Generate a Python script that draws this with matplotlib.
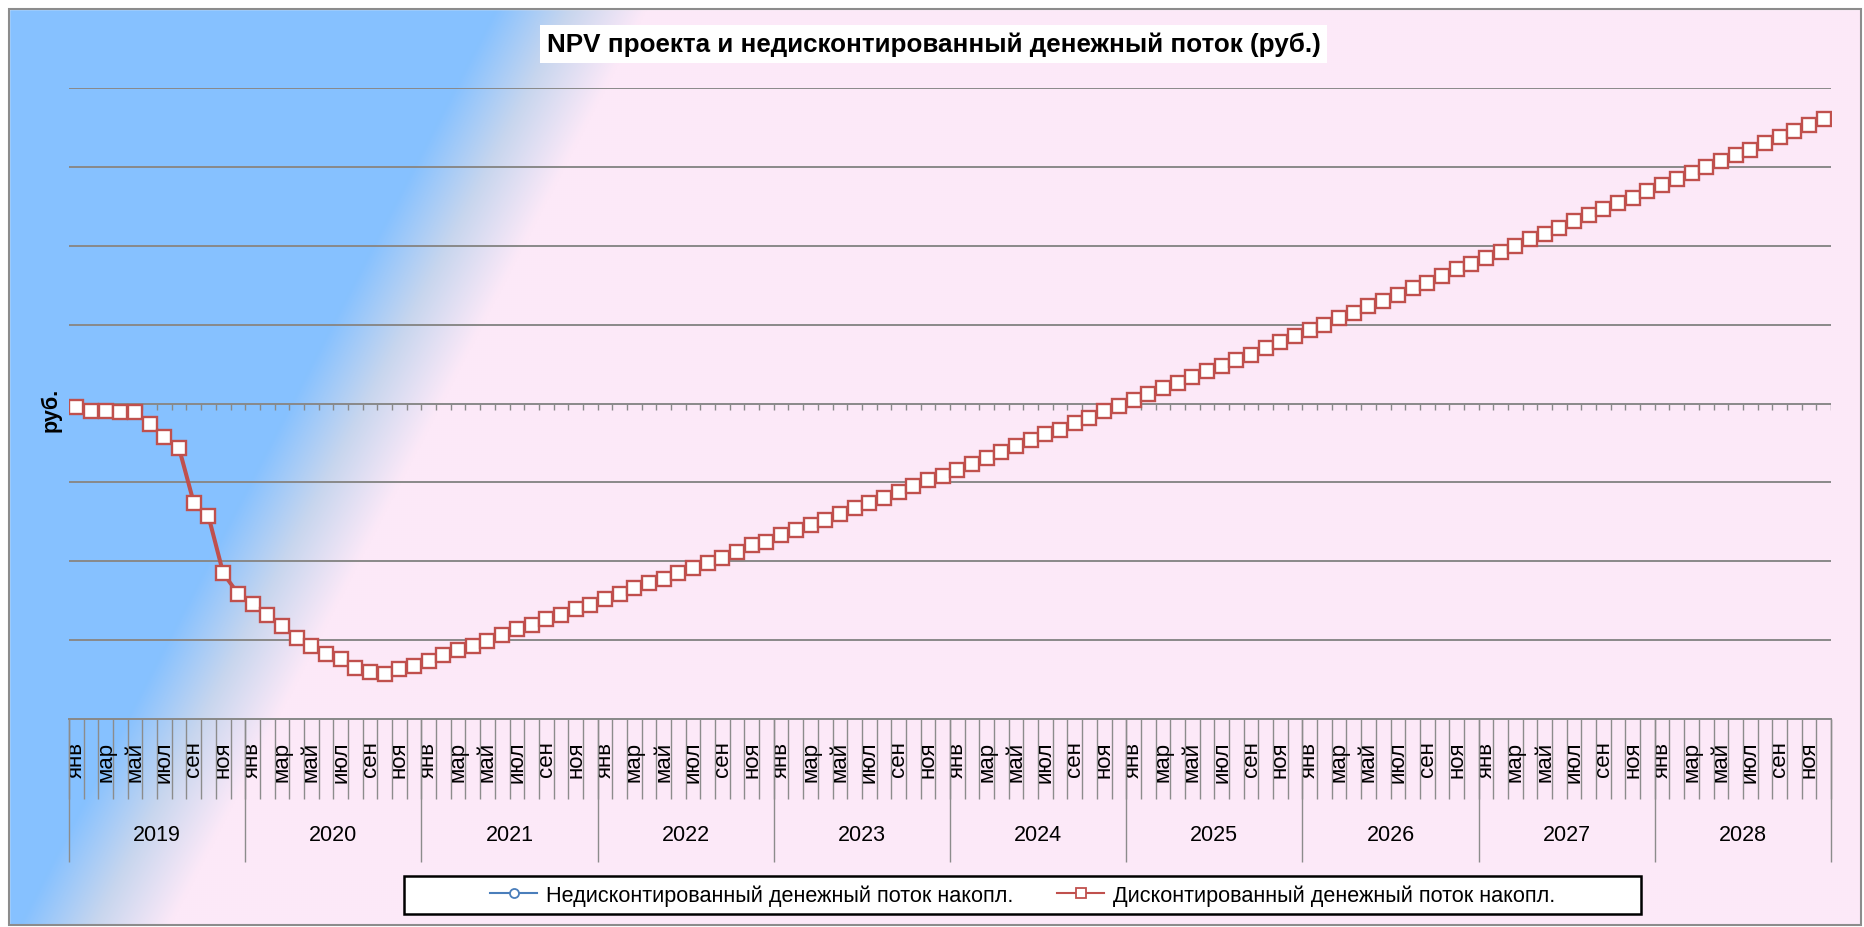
import numpy as np
import matplotlib
matplotlib.use("Agg")
import matplotlib.pyplot as plt
from matplotlib.patches import Rectangle
from matplotlib.lines import Line2D

plt.rcParams['font.family'] = ['Liberation Sans', 'DejaVu Sans']

# ---------------- data ----------------
title = "NPV проекта и недисконтированный денежный поток (руб.)"
y_label = "руб."
years = [2019, 2020, 2021, 2022, 2023, 2024, 2025, 2026, 2027, 2028]
month_names = ["янв", "фев", "мар", "апр", "май", "июн",
               "июл", "авг", "сен", "окт", "ноя", "дек"]
series_names = ["Недисконтированный денежный поток накопл.",
                "Дисконтированный денежный поток накопл."]

# cumulative discounted cash flow (arbitrary units)
discounted = [-0.05, -0.10, -0.10, -0.11, -0.11, -0.26, -0.42, -0.57, -1.26, -1.43, -2.15, -2.41,
              -2.54, -2.68, -2.82, -2.97, -3.08, -3.17, -3.24, -3.35, -3.40, -3.43, -3.37, -3.33,
              -3.27, -3.19, -3.12, -3.08, -3.01, -2.94, -2.86, -2.81, -2.73, -2.68, -2.60, -2.56,
              -2.48, -2.41, -2.34, -2.28, -2.22, -2.15, -2.09, -2.02, -1.96, -1.88, -1.80, -1.75,
              -1.67, -1.61, -1.54, -1.48, -1.40, -1.32, -1.26, -1.20, -1.12, -1.04, -0.97, -0.92,
              -0.84, -0.77, -0.69, -0.61, -0.54, -0.46, -0.39, -0.33, -0.25, -0.18, -0.10, -0.03,
              0.04, 0.12, 0.20, 0.26, 0.33, 0.41, 0.47, 0.55, 0.62, 0.70, 0.78, 0.85,
              0.93, 1.00, 1.08, 1.15, 1.23, 1.30, 1.38, 1.46, 1.53, 1.62, 1.70, 1.77,
              1.85, 1.92, 2.00, 2.08, 2.15, 2.22, 2.31, 2.39, 2.46, 2.54, 2.61, 2.69,
              2.77, 2.85, 2.92, 3.00, 3.07, 3.15, 3.22, 3.30, 3.38, 3.45, 3.53, 3.61]
# undiscounted series is hidden behind the discounted one in the reference
undiscounted = list(discounted)

y_ticks = [-4, -3, -2, -1, 0, 1, 2, 3, 4]

# ---------------- figure ----------------
W, H = 1864, 928
fig = plt.figure(figsize=(W / 100, H / 100), dpi=100)

# gradient background
bg = fig.add_axes([0, 0, 1, 1], zorder=-10)
gx, gy = np.meshgrid(np.arange(0, W, 2), np.arange(0, H, 2))
s = gx + 0.52 * gy
t = np.clip((s - 500) / 150.0, 0, 1)[..., None]
blue = np.array([134, 193, 255]) / 255
mid = np.array([200, 214, 238]) / 255
pink = np.array([252, 233, 248]) / 255
img = np.where(t < 0.5, blue + (mid - blue) * (t / 0.5), mid + (pink - mid) * ((t - 0.5) / 0.5))
bg.imshow(img, extent=[0, W, H, 0], aspect='auto', interpolation='bilinear')
bg.set_xlim(0, W)
bg.set_ylim(H, 0)
bg.axis('off')
# white outside frame + gray frame
for (x0, y0, w, h) in [(0, 0, W, 10), (0, 0, 9, H), (1861, 0, 3, H), (0, 926, W, 2)]:
    bg.add_patch(Rectangle((x0, y0), w, h, color='white', zorder=2))
bg.add_patch(Rectangle((9, 10), 1852, 916, fill=False, edgecolor='#8c8c8c', lw=1.5, zorder=3))

# main axes: plot area x 69..1831, y 89..720 (pixels from top)
L, R, T, B = 69.0, 1831.0, 89.0, 720.0
ax = fig.add_axes([L / W, 1 - B / H, (R - L) / W, (B - T) / H])
ax.set_facecolor('none')

n = len(discounted)
x = np.arange(n)
ax.set_xlim(-0.5, n - 0.5)
ax.set_ylim(y_ticks[0], y_ticks[-1])

grid_c = '#898989'
ax.set_yticks(y_ticks)
ax.set_yticklabels([])
ax.tick_params(axis='y', length=0)
ax.grid(axis='y', color=grid_c, lw=1.4, zorder=0)

for sp in ['top', 'left', 'right']:
    ax.spines[sp].set_visible(False)
ax.spines['bottom'].set_color(grid_c)
ax.spines['bottom'].set_linewidth(1.4)

# month boundaries as long major ticks, month labels on minor ticks
bounds = np.arange(n + 1) - 0.5
ax.set_xticks(bounds)
ax.set_xticklabels([])
ax.tick_params(axis='x', which='major', length=57.6, width=1.0, color='#8c8c8c', direction='out')
ax.set_xticks(x, minor=True)
labels = [month_names[i % 12] if (i % 12) % 2 == 0 else "" for i in range(n)]
ax.set_xticklabels(labels, minor=True, rotation=90, fontsize=16)
ax.tick_params(axis='x', which='minor', length=0, pad=15.5)

# small ticks along the zero line
ax.vlines(bounds, -0.085, 0, color=grid_c, lw=1.0, zorder=1)

# year labels and year separators
xt = ax.get_xaxis_transform()
year_bounds = [12 * k - 0.5 for k in range(len(years) + 1)]
ax.vlines(year_bounds, -(863 - B) / (B - T), 0, transform=xt, color='#8c8c8c', lw=1.0, clip_on=False)
for k, yr in enumerate(years):
    ax.text(12 * k + 5.5, -(836 - B) / (B - T), str(yr), transform=xt,
            ha='center', va='center', fontsize=15.5)

# series
l1, = ax.plot(x, undiscounted, color='#4a7ebb', lw=1.5, marker='o', ms=6,
              mfc='white', mec='#4a7ebb', mew=1.2, zorder=3, label=series_names[0])
l2, = ax.plot(x, discounted, color='#c0504d', lw=2.9, marker='s', ms=9.8,
              mfc='white', mec='#c0504d', mew=1.7, zorder=4, label=series_names[1])

# y label
fig.text(51 / W, 1 - 410 / H, y_label, rotation=90, fontsize=15.5, fontweight='bold',
         ha='center', va='center')

# title
fig.text(933.5 / W, 1 - 45 / H, title, fontsize=18.7, fontweight='bold', ha='center', va='center',
         bbox=dict(boxstyle='square,pad=0.25', facecolor='white', edgecolor='none'))

# legend box
bg.add_patch(Rectangle((404, 877), 1237, 38, facecolor='white', edgecolor='black', lw=1.8, zorder=4))
h1 = Line2D([], [], color='#4a7ebb', lw=1.5, marker='o', ms=6.5, mfc='white', mec='#4a7ebb', mew=1.3)
h2 = Line2D([], [], color='#c0504d', lw=1.5, marker='s', ms=7.5, mfc='white', mec='#c0504d', mew=1.3)
fig.legend([h1, h2], series_names, loc='center', bbox_to_anchor=(1022.5 / W, 1 - 896 / H),
           ncol=2, frameon=False, fontsize=15.6, handlelength=2.2, columnspacing=2.0,
           handletextpad=0.4)

fig.savefig('out.png', dpi=100)
